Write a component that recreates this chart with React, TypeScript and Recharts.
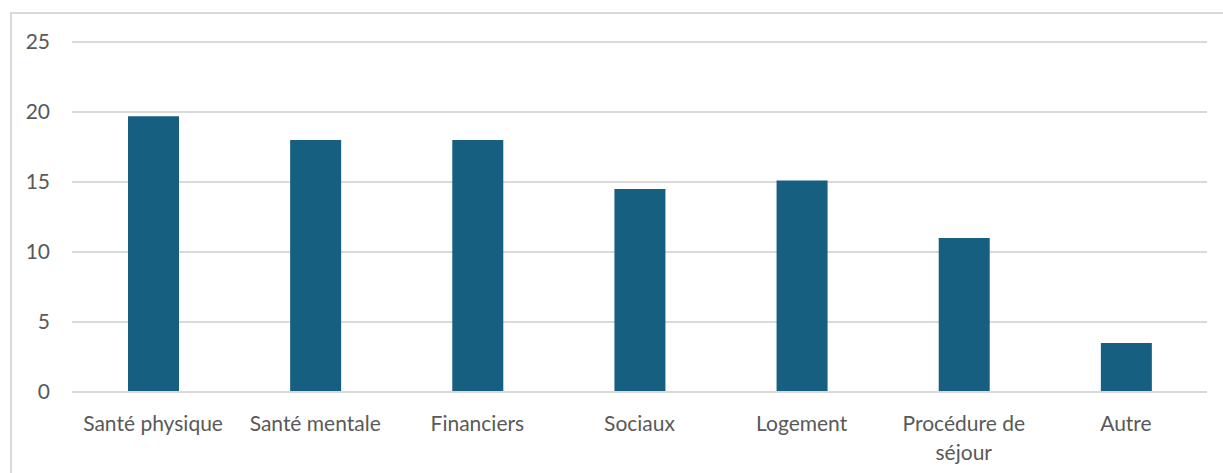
import { Bar, BarChart, CartesianGrid, XAxis, YAxis } from "recharts";

const categories = [
  "Santé physique",
  "Santé mentale",
  "Financiers",
  "Sociaux",
  "Logement",
  "Procédure de séjour",
  "Autre",
];
const values = [19.7, 18, 18, 14.5, 15.1, 11, 3.5];
const yTicks = [0, 5, 10, 15, 20, 25];

const data = categories.map((name, i) => ({ name, value: values[i] }));

const FONT = "Lato, 'Noto Sans', sans-serif";
const TEXT = "#595959";

// split long labels over two lines like the original
function wrap(label: string): string[] {
  if (label.length <= 15) return [label];
  const cut = label.lastIndexOf(" ", 13);
  return [label.slice(0, cut), label.slice(cut + 1)];
}

function XTick({ x, y, payload }: any) {
  const lines = wrap(payload.value);
  return (
    <text x={x} y={y + 37} textAnchor="middle" fill={TEXT} fontSize={21} fontFamily={FONT}>
      {lines.map((l, i) => (
        <tspan key={i} x={x} dy={i === 0 ? 0 : 29}>
          {l}
        </tspan>
      ))}
    </text>
  );
}

export default function App() {
  return (
    <div style={{ position: "absolute", left: 0, top: 0, width: 1223, height: 473, background: "#fff", overflow: "hidden" }}>
      <div
        style={{
          position: "absolute",
          left: 10,
          top: 12,
          width: 1300,
          height: 600,
          borderTop: "2px solid #d9d9d9",
          borderLeft: "2px solid #d9d9d9",
        }}
      />
      <BarChart
        width={1223}
        height={473}
        data={data}
        margin={{ top: 42, right: 16, bottom: 21, left: 12 }}
        barCategoryGap={0}
        style={{ position: "absolute", left: 0, top: 0 }}
      >
        <CartesianGrid vertical={false} stroke="#d9d9d9" strokeWidth={2} />
        <XAxis
          dataKey="name"
          axisLine={{ stroke: "#d9d9d9", strokeWidth: 2 }}
          tickLine={false}
          tickSize={0}
          height={60}
          interval={0}
          tick={<XTick />}
        />
        <YAxis
          domain={[0, 25]}
          ticks={yTicks}
          width={60}
          axisLine={false}
          tickLine={false}
          tickSize={0}
          tickMargin={22}
          tick={{ fill: TEXT, fontSize: 21, fontFamily: FONT }}
        />
        <Bar dataKey="value" fill="#175F80" barSize={51} isAnimationActive={false} />
      </BarChart>
    </div>
  );
}
